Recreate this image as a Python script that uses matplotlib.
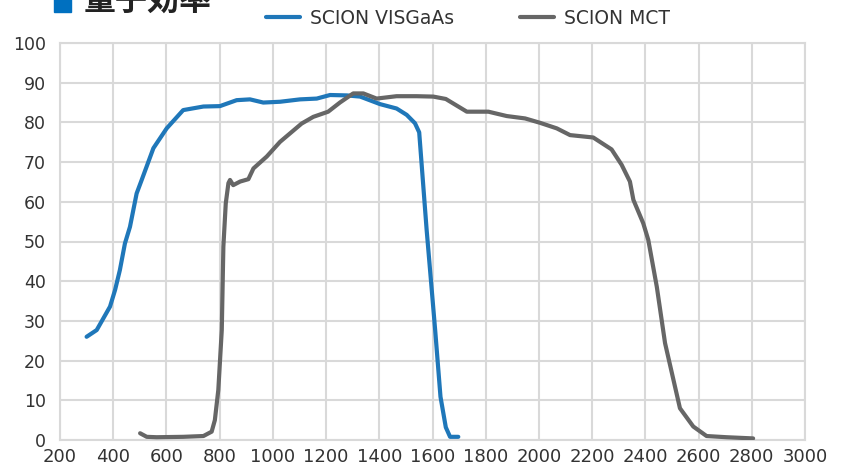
#!/usr/bin/env python3
import matplotlib
matplotlib.use("Agg")
import matplotlib.pyplot as plt
from matplotlib.patches import Rectangle

# quantum efficiency curves (wavelength nm, QE %)
vis_wl = [300, 338, 388, 407, 425, 444, 463, 488, 507, 551, 601, 663, 739, 801,
          864, 914, 964, 1027, 1102, 1165, 1215, 1278, 1328, 1403, 1465, 1503,
          1534, 1550, 1578, 1610, 1630, 1650, 1666, 1697]
vis_qe = [26.0, 27.7, 33.6, 37.8, 42.8, 49.5, 53.7, 62.1, 65.5, 73.5, 78.5, 83.1,
          84.0, 84.1, 85.6, 85.8, 85.0, 85.2, 85.8, 86.0, 86.9, 86.8, 86.5, 84.6,
          83.5, 81.9, 79.8, 77.5, 52.9, 27.7, 10.9, 3.2, 0.8, 0.8]

mct_wl = [501, 526, 563, 663, 739, 770, 782, 795, 808, 814, 823, 833, 839, 851,
          877, 908, 927, 977, 1027, 1108, 1152, 1208, 1252, 1302, 1340, 1390,
          1465, 1540, 1603, 1650, 1729, 1810, 1879, 1948, 2004, 2067, 2117,
          2204, 2273, 2311, 2342, 2355, 2392, 2411, 2443, 2474, 2530, 2580,
          2630, 2705, 2805]
mct_qe = [1.7, 0.8, 0.7, 0.8, 1.0, 2.1, 5.0, 12.6, 27.7, 48.7, 59.6, 64.7, 65.5,
          64.2, 65.1, 65.7, 68.4, 71.4, 75.1, 79.7, 81.4, 82.7, 85.0, 87.3, 87.3,
          86.0, 86.6, 86.6, 86.5, 85.9, 82.7, 82.7, 81.6, 81.0, 79.9, 78.5, 76.8,
          76.2, 73.2, 69.3, 65.1, 60.5, 54.6, 50.4, 38.6, 24.4, 8.0, 3.4, 1.0,
          0.7, 0.4]

x_ticks = list(range(200, 3001, 200))
y_ticks = list(range(0, 101, 10))
series_labels = ["SCION VISGaAs", "SCION MCT"]
title = "量子効率"

BLUE = "#1f77b9"
GRAY = "#666666"
GRID = "#d9d9d9"
TEXT = "#333333"

fig = plt.figure(figsize=(8.51, 4.71), dpi=100)
ax = fig.add_axes([60 / 851, 1 - 440 / 471, 745 / 851, 397 / 471])

l1, = ax.plot(vis_wl, vis_qe, color=BLUE, lw=3.0, solid_capstyle="round",
              solid_joinstyle="round", zorder=3)
l2, = ax.plot(mct_wl, mct_qe, color=GRAY, lw=3.0, solid_capstyle="round",
              solid_joinstyle="round", zorder=3)

ax.set_xlim(200, 3000)
ax.set_ylim(0, 100)
ax.set_xticks(x_ticks)
ax.set_yticks(y_ticks)
ax.grid(True, color=GRID, lw=1.5)
ax.set_axisbelow(True)
for s in ax.spines.values():
    s.set_color(GRID)
    s.set_linewidth(1.5)
ax.tick_params(length=0, colors=TEXT)
ax.tick_params(axis="y", pad=10, labelsize=12.5)
ax.tick_params(axis="x", pad=6, labelsize=13)

fig.legend([l1, l2], series_labels, loc="center", bbox_to_anchor=(468 / 851, 1 - 18 / 471),
           ncol=2, frameon=False, fontsize=13.5, handlelength=1.8,
           handletextpad=0.55, columnspacing=3.5, labelcolor=TEXT)

# clipped title at the top edge
fig.patches.append(Rectangle((54 / 851, 1 - 12 / 471), 17 / 851, 17 / 471,
                             transform=fig.transFigure, color="#0070c0"))
fig.text(84 / 851, 1 - 10 / 471, title, fontsize=23, fontweight="bold",
         family=["Noto Sans CJK JP", "DejaVu Sans"], color="#222222", va="baseline")

fig.savefig("out.png", dpi=100)
